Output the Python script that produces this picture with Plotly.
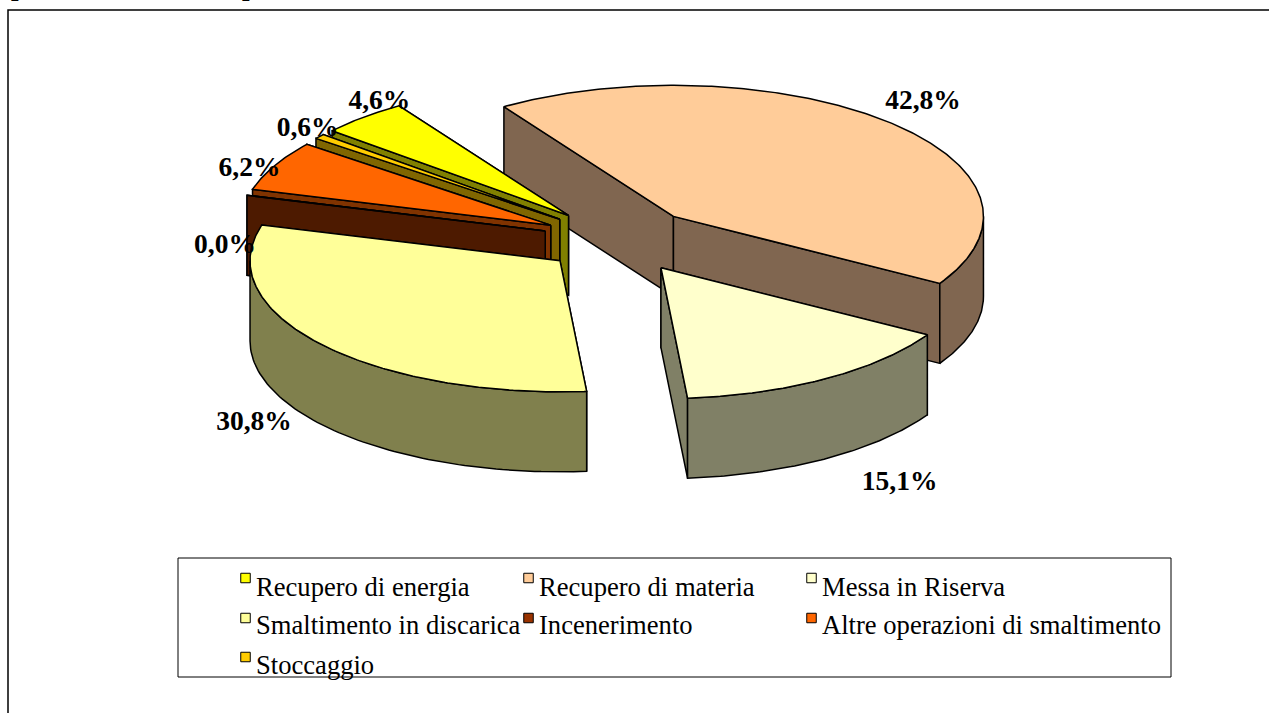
import numpy as np
import plotly.graph_objects as go

# ---- data -------------------------------------------------------------
categories = ["Recupero di energia", "Recupero di materia", "Messa in Riserva",
              "Smaltimento in discarica", "Incenerimento",
              "Altre operazioni di smaltimento", "Stoccaggio"]
values = [4.6, 42.8, 15.1, 30.8, 0.0, 6.2, 0.6]
top_colors = ["#FFFF00", "#FFCC99", "#FFFFCC", "#FFFF99", "#993300", "#FF6600", "#FFCC00"]
wall_colors = ["#808000", "#806650", "#808066", "#80804D", "#4D1A00", "#803300", "#806600"]
title_fragments = ["p", "p", ","]

# ---- 3-D pie projection (pixel-based axes) ------------------------------
W, H = 1269, 713
CX, CY = 619.8, 240.0     # pie centre
RX, RY = 310.0, 131.0     # ellipse radii
DEPTH = 80.0              # wall height
EXPLODE = 0.25
START = 310.3             # first slice angle, clockwise from top
draw_order = [1, 0, 6, 5, 4, 3, 2]   # painter's order, back to front
label_offset = [(16, -15), (35, -20), (74, 104), (-67, 79), (-22, 51), (-25, 3), (-12, -7)]

total = sum(values)
spans = [v / total * 360 for v in values]
starts = [START + sum(spans[:i]) for i in range(len(values))]


def pt(deg, r=1.0):
    t = np.radians(deg)
    return RX * r * np.sin(t), -RY * r * np.cos(t)


fig = go.Figure()


def poly(xs, ys, fill, name):
    xs, ys = list(xs), list(ys)
    fig.add_trace(go.Scatter(
        x=xs + xs[:1], y=ys + ys[:1], mode="lines", fill="toself", fillcolor=fill,
        line=dict(color="#000000", width=1.5), hoverinfo="skip", showlegend=False, name=name))


apexes = {}
for i in draw_order:
    a0, span = starts[i], spans[i]
    a1 = a0 + span
    mid = a0 + span / 2
    dx, dy = pt(mid, EXPLODE)
    ax, ay = CX + dx, CY + dy
    apexes[i] = (ax, ay, mid)
    # radial faces, rear one first
    faces = []
    for a in (a0, a1):
        px, py = pt(a)
        faces.append((py, [ax, ax + px, ax + px, ax], [ay, ay + py, ay + py + DEPTH, ay + DEPTH]))
    for _, fx, fy in sorted(faces, key=lambda f: f[0]):
        poly(fx, fy, wall_colors[i], categories[i] + " side")
    # outer wall: only the arc part that faces the viewer
    for k in (-1, 0, 1):
        lo = max(a0, 90 + 360 * k)
        hi = min(a1, 270 + 360 * k)
        if hi > lo:
            th = np.linspace(lo, hi, 80)
            px, py = pt(th)
            poly(np.r_[ax + px, (ax + px)[::-1]],
                 np.r_[ay + py, (ay + py)[::-1] + DEPTH],
                 wall_colors[i], categories[i] + " wall")
    # top
    th = np.linspace(a0, a1, max(2, int(span * 2)))
    px, py = pt(th)
    poly(np.r_[ax, ax + px], np.r_[ay, ay + py], top_colors[i], categories[i])

# ---- data labels --------------------------------------------------------
lx, ly, lt = [], [], []
for i, v in enumerate(values):
    ax, ay, mid = apexes[i]
    px, py = pt(mid)
    lx.append(ax + px + label_offset[i][0])
    ly.append(ay + py + label_offset[i][1])
    lt.append(f"{v:.1f}".replace(".", ",") + "%")
fig.add_trace(go.Scatter(x=lx, y=ly, mode="text", text=lt, textposition="middle center",
                         textfont=dict(family="Liberation Serif", size=27.5, color="#000000"),
                         texttemplate="<b>%{text}</b>", hoverinfo="skip", showlegend=False))

# ---- legend -------------------------------------------------------------
col_x = [245.5, 528.5, 811.5]
row_y = [578, 618, 657]
text_y = [589, 627.5, 667]
kx = [col_x[i % 3] for i in range(len(categories))]
ky = [row_y[i // 3] for i in range(len(categories))]
ty = [text_y[i // 3] for i in range(len(categories))]
fig.add_trace(go.Scatter(x=kx, y=ky, mode="markers",
                         marker=dict(symbol="square", size=9.5, color=top_colors,
                                     line=dict(color="#000000", width=1)),
                         hoverinfo="skip", showlegend=False))
fig.add_trace(go.Scatter(x=[k + 10.5 for k in kx], y=ty, mode="text",
                         text=categories, textposition="middle right",
                         textfont=dict(family="Liberation Serif", size=26.6, color="#000000"),
                         hoverinfo="skip", showlegend=False))

# ---- frames -------------------------------------------------------------
shapes = [
    dict(type="rect", x0=8, y0=10, x1=W + 20, y1=H + 20, line=dict(color="#000000", width=1.5), layer="below"),
    dict(type="rect", x0=178, y0=558, x1=1171, y1=677, line=dict(color="#000000", width=1), layer="below"),
]

# ---- cropped title fragments at the very top of the page ----------------
annotations = [
    dict(x=x / W, y=1 + 14 / H, xref="paper", yref="paper", text=f"<b>{t}</b>", showarrow=False,
         yanchor="middle", font=dict(family="Liberation Serif", size=27, color="#000000"))
    for x, t in zip([9, 240, 497], title_fragments)
]

fig.update_layout(
    width=W, height=H, margin=dict(l=0, r=0, t=0, b=0), autosize=False,
    paper_bgcolor="#FFFFFF", plot_bgcolor="#FFFFFF", showlegend=False, shapes=shapes,
    annotations=annotations,
    xaxis=dict(range=[0, W], visible=False, fixedrange=True),
    yaxis=dict(range=[H, 0], visible=False, fixedrange=True),
)
fig.write_html("out.html", config={"displayModeBar": False},
               post_script="document.body.style.margin='0';document.body.style.overflow='hidden';")
